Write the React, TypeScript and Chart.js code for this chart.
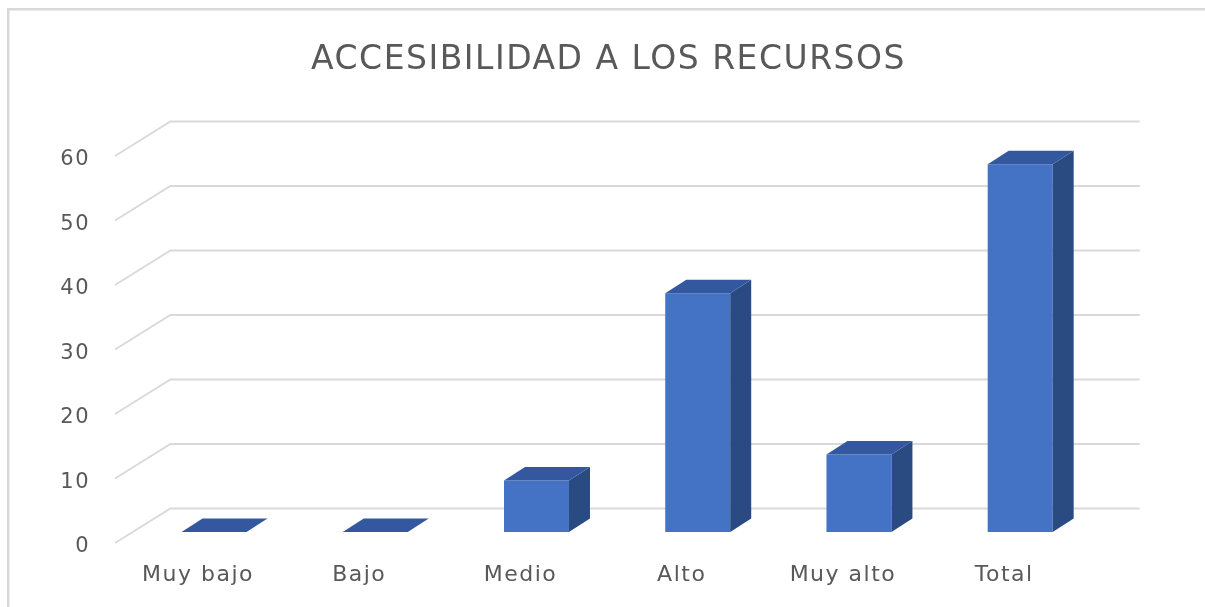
import React, { useEffect, useRef } from "react";
import { Chart, registerables } from "chart.js";

Chart.register(...registerables);

const categories = ["Muy bajo", "Bajo", "Medio", "Alto", "Muy alto", "Total"];
const values = [0, 0, 8, 37, 12, 57];
const yMin = 0;
const yMax = 60;
const yStep = 10;
const titleText = "ACCESIBILIDAD A LOS RECURSOS";

const FRONT = "#4472C4";
const TOP = "#3358A0";
const SIDE = "#2A4A82";
const GRID = "#D9D9D9";
const TEXT = "#595959";
const FONT = "'DejaVu Sans', sans-serif";

const barDepth = { dx: 21, dy: -13.5 };
const wallBack = { dx: 37, dy: -23.5 };
const wallFront = { dx: -18.4, dy: 11 };

const plugin3d = {
  id: "plugin3d",
  beforeDraw(chart: any) {
    const { ctx, width, height } = chart;
    ctx.save();
    ctx.fillStyle = GRID;
    ctx.fillRect(7, 8, width, 2.5);
    ctx.fillRect(7, 8, 2.5, height);
    ctx.restore();
    (ctx as any).letterSpacing = "1.5px";
  },
  beforeDatasetsDraw(chart: any) {
    const { ctx, chartArea } = chart;
    const y = chart.scales.y;
    ctx.save();
    ctx.strokeStyle = GRID;
    ctx.lineWidth = 1.8;
    y.ticks.forEach((t: any) => {
      const py = y.getPixelForValue(t.value);
      const bx0 = chartArea.left + wallBack.dx;
      const bx1 = chartArea.right + wallBack.dx + 2;
      const by = py + wallBack.dy;
      ctx.beginPath();
      ctx.moveTo(chartArea.left + wallFront.dx, py + wallFront.dy);
      ctx.lineTo(bx0, by);
      ctx.lineTo(bx1, by);
      ctx.stroke();
    });
    ctx.restore();
  },
  afterDatasetsDraw(chart: any) {
    const { ctx } = chart;
    const meta = chart.getDatasetMeta(0);
    ctx.save();
    meta.data.forEach((bar: any) => {
      const { x, y, base, width } = bar.getProps(["x", "y", "base", "width"], true);
      const l = x - width / 2;
      const r = x + width / 2;
      const t = Math.min(y, base);
      const b = Math.max(y, base);
      if (b - t > 0.5) {
        ctx.fillStyle = SIDE;
        ctx.beginPath();
        ctx.moveTo(r, t);
        ctx.lineTo(r + barDepth.dx, t + barDepth.dy);
        ctx.lineTo(r + barDepth.dx, b + barDepth.dy);
        ctx.lineTo(r, b);
        ctx.closePath();
        ctx.fill();
      }
      ctx.fillStyle = TOP;
      ctx.beginPath();
      ctx.moveTo(l, t);
      ctx.lineTo(r, t);
      ctx.lineTo(r + barDepth.dx, t + barDepth.dy);
      ctx.lineTo(l + barDepth.dx, t + barDepth.dy);
      ctx.closePath();
      ctx.fill();
    });
    ctx.restore();
  },
};

export default function App() {
  const ref = useRef<HTMLCanvasElement | null>(null);
  useEffect(() => {
    document.documentElement.style.overflow = "hidden";
    document.body.style.margin = "0";
    document.body.style.overflow = "hidden";
    document.body.style.background = "#ffffff";
    if (!ref.current) return;
    const chart = new Chart(ref.current, {
      type: "bar",
      data: {
        labels: categories,
        datasets: [
          {
            data: values,
            backgroundColor: FRONT,
            borderWidth: 0,
            barPercentage: 0.403,
            categoryPercentage: 1,
            yAxisID: "y",
          },
        ],
      },
      options: {
        responsive: false,
        animation: false,
        devicePixelRatio: 1,
        layout: { padding: { top: 40.5, left: 58, right: 46, bottom: 15 } },
        plugins: {
          legend: { display: false },
          tooltip: { enabled: false },
          title: {
            display: true,
            text: titleText,
            color: TEXT,
            font: { family: FONT, size: 33, weight: "normal" },
            padding: { top: 0, bottom: 64.9 },
          },
        },
        scales: {
          x: {
            offset: true,
            grid: { display: false, drawTicks: false },
            border: { display: false },
            ticks: {
              color: TEXT,
              font: { family: FONT, size: 22 },
              labelOffset: -16,
              padding: 30,
              maxRotation: 0,
              autoSkip: false,
            },
            afterFit: (s: any) => {
              s.height = 60;
            },
          },
          y: {
            min: yMin,
            max: yMax,
            grid: { display: false, drawTicks: false },
            border: { display: false },
            ticks: {
              stepSize: yStep,
              color: TEXT,
              font: { family: FONT, size: 21 },
              labelOffset: 15,
              padding: 43.4,
            },
            afterFit: (s: any) => {
              s.width = 75.4;
            },
          },
          yRight: {
            position: "right",
            display: true,
            grid: { display: false, drawTicks: false },
            border: { display: false },
            ticks: { display: false },
            afterFit: (s: any) => {
              s.width = 58.2;
            },
          },
        },
      },
      plugins: [plugin3d],
    });
    return () => chart.destroy();
  }, []);
  return (
    <div style={{ width: 1205, height: 607, overflow: "hidden", background: "#ffffff" }}>
      <canvas
        ref={ref}
        width={1205}
        height={607}
        style={{ display: "block", width: 1205, height: 607 }}
      />
    </div>
  );
}
